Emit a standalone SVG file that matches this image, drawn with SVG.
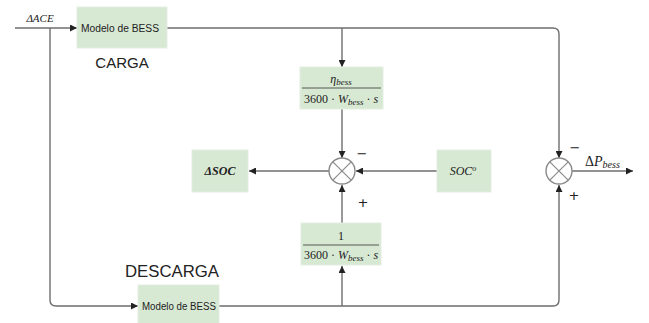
<svg xmlns="http://www.w3.org/2000/svg" width="649" height="323" viewBox="0 0 649 323">
<style>
.box{fill:#d7e8d3;stroke:#e4efe1;stroke-width:1}
.ln{fill:none;stroke:#6e6e6e;stroke-width:1.4}
.sum{fill:#fff;stroke:#8a8a8a;stroke-width:1.4}
.x{stroke:#8a8a8a;stroke-width:1.2}
.sans{font-family:"Liberation Sans",Arial,sans-serif;fill:#222}
.ser{font-family:"Liberation Serif","Times New Roman",serif;fill:#222}
.it{font-style:italic}
.sign{font-family:"DejaVu Sans",sans-serif;fill:#222;font-size:13px}
</style>
<defs>
<marker id="ah" viewBox="0 0 10 10" refX="10" refY="5" markerWidth="5" markerHeight="5" orient="auto">
<path d="M0,0 L10,5 L0,10 z" fill="#222"/>
</marker>
</defs>
<rect width="649" height="323" fill="#fff"/>
<g id="connectors">
<path class="ln" d="M15,28 H77" marker-end="url(#ah)"/>
<path class="ln" d="M50,28 V300 Q50,306 56,306 H138" marker-end="url(#ah)"/>
<path class="ln" d="M167,28 H553 Q559,28 559,34 V158" marker-end="url(#ah)"/>
<path class="ln" d="M342,28 V67" marker-end="url(#ah)"/>
<path class="ln" d="M342,109 V158" marker-end="url(#ah)"/>
<path class="ln" d="M219,306 H553 Q559,306 559,300 V185" marker-end="url(#ah)"/>
<path class="ln" d="M342,306 V266" marker-end="url(#ah)"/>
<path class="ln" d="M342,223 V185" marker-end="url(#ah)"/>
<path class="ln" d="M437,171 H356" marker-end="url(#ah)"/>
<path class="ln" d="M329,171 H249" marker-end="url(#ah)"/>
<path class="ln" d="M572,171 H633" marker-end="url(#ah)"/>
</g>
<g id="input-label">
<text class="ser it" x="40" y="22" font-size="11" text-anchor="middle">ΔACE</text>
</g>
<g id="modelo-carga">
<rect class="box" x="77" y="7" width="90" height="41"/>
<text class="sans" x="120" y="31.5" font-size="10" text-anchor="middle" textLength="78" lengthAdjust="spacingAndGlyphs">Modelo de BESS</text>
</g>
<g id="label-carga">
<text class="sans" x="122" y="68" font-size="15" text-anchor="middle" fill="#111">CARGA</text>
</g>
<g id="block-eta">
<rect class="box" x="300" y="67" width="83" height="42"/>
<line x1="302" y1="88" x2="381" y2="88" stroke="#333" stroke-width="0.8"/>
<text class="ser it" x="341" y="83" font-size="12" text-anchor="middle">η<tspan font-size="9" dy="2">bess</tspan></text>
<text class="ser" x="341" y="103" font-size="12" text-anchor="middle">3600 · <tspan class="it">W</tspan><tspan class="it" font-size="9" dy="2">bess</tspan><tspan dy="-2"> · </tspan><tspan class="it">s</tspan></text>
</g>
<g id="sum-soc">
<circle class="sum" cx="342" cy="171" r="13"/>
<line class="x" x1="332.8" y1="161.8" x2="351.2" y2="180.2"/>
<line class="x" x1="351.2" y1="161.8" x2="332.8" y2="180.2"/>
<text class="sign" x="362" y="158" text-anchor="middle">−</text>
<text class="sign" x="363" y="207" font-size="11" text-anchor="middle">+</text>
</g>
<g id="delta-soc">
<rect class="box" x="192" y="150" width="56" height="42"/>
<text class="ser it" x="220" y="175" font-size="12" font-weight="bold" text-anchor="middle">ΔSOC</text>
</g>
<g id="soc0">
<rect class="box" x="437" y="150" width="54" height="42"/>
<text class="ser it" x="463" y="175" font-size="12" text-anchor="middle">SOC<tspan font-size="8" dy="-4">o</tspan></text>
</g>
<g id="block-one">
<rect class="box" x="301" y="223" width="80" height="42"/>
<line x1="303" y1="245" x2="379" y2="245" stroke="#333" stroke-width="0.8"/>
<text class="ser" x="341" y="240" font-size="12" text-anchor="middle">1</text>
<text class="ser" x="341" y="259" font-size="12" text-anchor="middle">3600 · <tspan class="it">W</tspan><tspan class="it" font-size="9" dy="2">bess</tspan><tspan dy="-2"> · </tspan><tspan class="it">s</tspan></text>
</g>
<g id="label-descarga">
<text class="sans" x="172" y="277" font-size="16" text-anchor="middle" fill="#111" textLength="94" lengthAdjust="spacingAndGlyphs">DESCARGA</text>
</g>
<g id="modelo-descarga">
<rect class="box" x="138" y="285" width="81" height="40"/>
<text class="sans" x="179" y="309.5" font-size="10" text-anchor="middle" textLength="74" lengthAdjust="spacingAndGlyphs">Modelo de BESS</text>
</g>
<g id="sum-p">
<circle class="sum" cx="559" cy="171" r="13"/>
<line class="x" x1="549.8" y1="161.8" x2="568.2" y2="180.2"/>
<line class="x" x1="568.2" y1="161.8" x2="549.8" y2="180.2"/>
<text class="sign" x="575" y="152" font-size="16" text-anchor="middle">−</text>
<text class="sign" x="574" y="200" font-size="15" text-anchor="middle">+</text>
</g>
<g id="output-label">
<text class="ser" x="585" y="166" font-size="14">Δ<tspan class="it">P</tspan><tspan class="it" font-size="10" dy="2">bess</tspan></text>
</g>
</svg>
